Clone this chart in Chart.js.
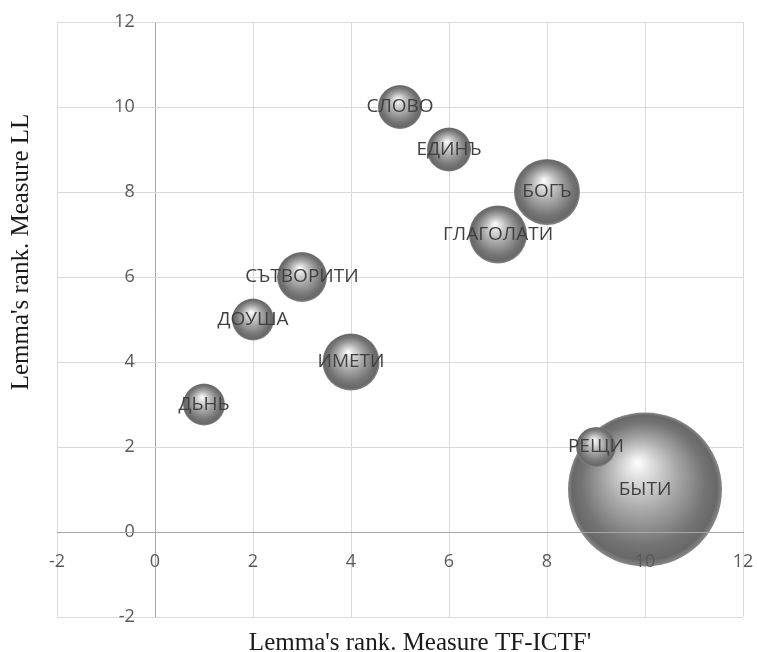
<!DOCTYPE html>
<html>
<head>
<meta charset="utf-8">
<script src="https://cdn.jsdelivr.net/npm/chart.js@4.4.1/dist/chart.umd.min.js"></script>
<style>
  html, body { margin: 0; padding: 0; background: #fff; overflow: hidden; }
  canvas { display: block; }
</style>
</head>
<body>
<canvas id="bubbleChart" width="757" height="652"></canvas>
<script>
// lemmas, ordered largest bubble first so small ones sit on top
const lemmas = ['БЫТИ', 'БОГЪ', 'ГЛАГОЛАТИ', 'ИМЕТИ', 'СЪТВОРИТИ', 'СЛОВО', 'ЕДИНЪ', 'ДОУША', 'ДЬНЬ', 'РЕЩИ'];
const rankTfIctf = [10, 8, 7, 4, 3, 5, 6, 2, 1, 9];
const rankLL = [1, 8, 7, 4, 6, 10, 9, 5, 3, 2];
const bubbleSize = [100, 18.4, 14.2, 13.7, 10.5, 8.2, 8.2, 7.4, 7.4, 6.7]; // relative (area)
const axisTicks = [-2, 0, 2, 4, 6, 8, 10, 12];

const BUBBLE_SCALE = 7.7; // px radius per sqrt(size)
const TICK_FONT = { family: '"Open Sans"', size: 18 };
const GRID = '#d9d9d9';
const AXIS = '#a6a6a6';

const points = lemmas.map((name, i) => ({
  x: rankTfIctf[i],
  y: rankLL[i],
  r: BUBBLE_SCALE * Math.sqrt(bubbleSize[i])
}));

// grey glossy sphere look
function sphereFill(ctx) {
  if (ctx.type !== 'data') return '#999';
  const chart = ctx.chart;
  const raw = ctx.raw;
  const cx = chart.scales.x.getPixelForValue(raw.x);
  const cy = chart.scales.y.getPixelForValue(raw.y);
  if (!isFinite(cx) || !isFinite(cy)) return '#999';
  const r = raw.r;
  const g = chart.ctx.createRadialGradient(cx - r * 0.1, cy - r * 0.36, 0, cx, cy, r);
  g.addColorStop(0, '#ffffff');
  g.addColorStop(0.16, '#e0e0e0');
  g.addColorStop(0.48, '#a6a6a6');
  g.addColorStop(0.8, '#747474');
  g.addColorStop(0.94, '#686868');
  g.addColorStop(1, '#888888');
  return g;
}

const bubbleLabels = {
  id: 'bubbleLabels',
  afterDatasetsDraw(chart) {
    const c = chart.ctx;
    const meta = chart.getDatasetMeta(0);
    c.save();
    c.font = '19px "Open Sans"';
    c.fillStyle = '#404040';
    c.textAlign = 'center';
    c.textBaseline = 'middle';
    meta.data.forEach((pt, i) => c.fillText(lemmas[i], pt.x, pt.y));
    c.restore();
  }
};

const axisTitles = {
  id: 'axisTitles',
  afterDraw(chart) {
    const c = chart.ctx;
    c.save();
    c.font = '25px "Liberation Serif"';
    c.fillStyle = '#1a1a1a';
    c.textAlign = 'center';
    c.textBaseline = 'alphabetic';
    c.fillText("Lemma's rank. Measure TF-ICTF'", 420, 650);
    c.translate(28, 252);
    c.rotate(-Math.PI / 2);
    c.fillText("Lemma's rank. Measure LL", 0, 0);
    c.restore();
  }
};

function fixedTicks(scale) {
  scale.ticks = axisTicks.map(v => ({ value: v }));
}

// edge labels may overhang, don't let them shrink the plot
function noEdgePadding(scale) {
  scale.paddingLeft = scale.paddingRight = 0;
  scale.paddingTop = scale.paddingBottom = 0;
}

function gridColor(ctx) {
  return ctx.tick && ctx.tick.value === 0 ? AXIS : GRID;
}

new Chart(document.getElementById('bubbleChart'), {
  type: 'bubble',
  data: {
    datasets: [{
      data: points,
      backgroundColor: sphereFill,
      borderWidth: 0,
      hoverRadius: 0
    }]
  },
  options: {
    responsive: false,
    animation: false,
    events: [],
    layout: { autoPadding: false, padding: { left: 57, right: 14, top: 22, bottom: 35 } },
    plugins: { legend: { display: false }, tooltip: { enabled: false } },
    scales: {
      // grid under the bubbles
      x: {
        type: 'linear',
        position: { y: 0 },
        min: -2, max: 12,
        afterBuildTicks: fixedTicks,
        afterFit: noEdgePadding,
        grid: { color: gridColor, drawTicks: false },
        border: { display: false },
        ticks: { display: false }
      },
      // axis line and tick labels drawn over the bubbles
      xTop: {
        type: 'linear',
        axis: 'x',
        position: { y: 0 },
        min: -2, max: 12,
        afterBuildTicks: fixedTicks,
        afterFit: noEdgePadding,
        grid: { display: false, drawTicks: false },
        border: { color: AXIS, z: 1 },
        ticks: { font: TICK_FONT, color: '#595959', padding: 19, z: 1 }
      },
      y: {
        type: 'linear',
        // labels sit a little left of the x = 0 axis line
        position: { x: -0.41 },
        min: -2, max: 12,
        afterBuildTicks: fixedTicks,
        afterFit: noEdgePadding,
        grid: { color: gridColor, drawTicks: false },
        border: { display: false },
        ticks: { font: TICK_FONT, color: '#595959' }
      }
    }
  },
  plugins: [bubbleLabels, axisTitles]
});
</script>
</body>
</html>
